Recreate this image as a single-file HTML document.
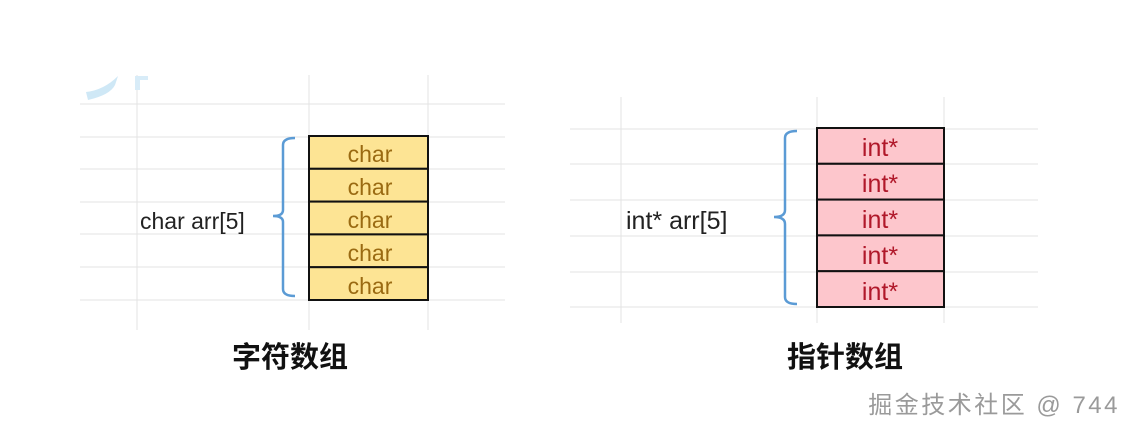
<!DOCTYPE html>
<html><head><meta charset="utf-8"><style>
body{margin:0;width:1136px;height:433px;background:#fff;overflow:hidden;position:relative;font-family:"Liberation Sans","Noto Sans CJK SC",sans-serif}
</style></head><body>
<svg width="1136" height="433" style="position:absolute;left:0;top:0" font-family="Liberation Sans, Noto Sans CJK SC, sans-serif">
<g stroke="#e3e3e3" stroke-width="1">
<line x1="80" y1="104" x2="505" y2="104"/><line x1="80" y1="137" x2="505" y2="137"/><line x1="80" y1="169" x2="505" y2="169"/><line x1="80" y1="202" x2="505" y2="202"/><line x1="80" y1="234" x2="505" y2="234"/><line x1="80" y1="267" x2="505" y2="267"/><line x1="80" y1="300" x2="505" y2="300"/>
<line x1="137" y1="75" x2="137" y2="330"/><line x1="309" y1="75" x2="309" y2="330"/><line x1="428" y1="75" x2="428" y2="330"/>
<line x1="570" y1="129" x2="1038" y2="129"/><line x1="570" y1="164" x2="1038" y2="164"/><line x1="570" y1="200" x2="1038" y2="200"/><line x1="570" y1="236" x2="1038" y2="236"/><line x1="570" y1="272" x2="1038" y2="272"/><line x1="570" y1="307" x2="1038" y2="307"/>
<line x1="621" y1="97" x2="621" y2="323"/><line x1="817" y1="97" x2="817" y2="323"/><line x1="944" y1="97" x2="944" y2="323"/>
</g>
<path d="M88 100 Q110 95 115 85 L118 76 Q104 90 86 92 Z" fill="#cfe8f6"/>
<path d="M135 76 L148 76 L148 80 L140 80 L140 90 L135 90Z" fill="#d8ecf8"/>
<g stroke="#111" stroke-width="2" fill="#fde494">
<rect x="309" y="136" width="119" height="32.8"/><rect x="309" y="168.8" width="119" height="32.8"/><rect x="309" y="201.6" width="119" height="32.8"/><rect x="309" y="234.4" width="119" height="32.8"/><rect x="309" y="267.2" width="119" height="32.8"/>
</g>
<g stroke="#111" stroke-width="2" fill="#fdc6cc">
<rect x="817" y="128" width="127" height="35.8"/><rect x="817" y="163.8" width="127" height="35.8"/><rect x="817" y="199.6" width="127" height="35.8"/><rect x="817" y="235.4" width="127" height="35.8"/><rect x="817" y="271.2" width="127" height="35.8"/>
</g>
<g fill="#9a6a12" font-size="23" text-anchor="middle">
<text x="370" y="162">char</text><text x="370" y="195">char</text><text x="370" y="228">char</text><text x="370" y="261">char</text><text x="370" y="294">char</text>
</g>
<g fill="#b0182a" font-size="25" text-anchor="middle">
<text x="880" y="156">int*</text><text x="880" y="192">int*</text><text x="880" y="228">int*</text><text x="880" y="264">int*</text><text x="880" y="300">int*</text>
</g>
<g stroke="#5b9bd5" stroke-width="2.5" fill="none">
<path d="M295 138 Q283 138 283 145 L283 210 Q283 216 273 216 Q283 216 283 222 L283 289 Q283 296 295 296"/>
<path d="M797 131 Q785 131 785 138 L785 210 Q785 217 774 217 Q785 217 785 224 L785 297 Q785 304 797 304"/>
</g>
<text x="140" y="229" font-size="23" fill="#222">char arr[5]</text>
<text x="626" y="229" font-size="25" fill="#222">int* arr[5]</text>
<text x="290" y="367" font-size="29" font-weight="bold" text-anchor="middle" fill="#111">字符数组</text>
<text x="845" y="367" font-size="29" font-weight="bold" text-anchor="middle" fill="#111">指针数组</text>
<text x="1120" y="413" font-size="24" text-anchor="end" fill="#9a9a9a" letter-spacing="2.5">掘金技术社区 @ 744</text>
</svg>
</body></html>
